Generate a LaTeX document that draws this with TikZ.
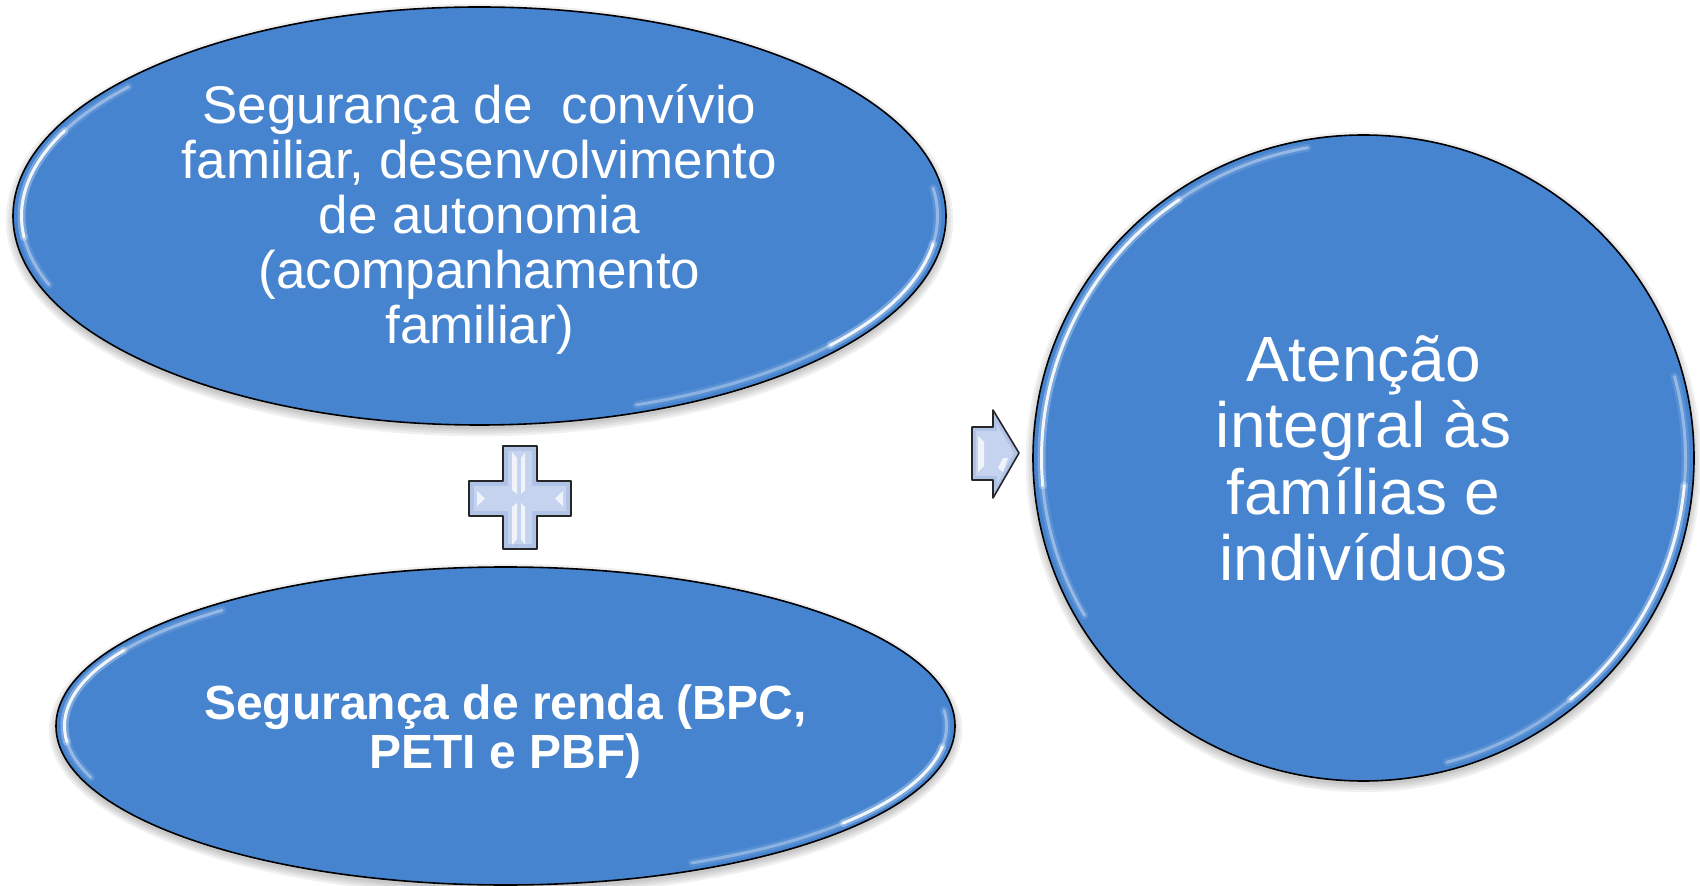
\documentclass[tikz,border=0pt]{standalone}
\usepackage{fontspec}
\setmainfont{Liberation Sans}
\usetikzlibrary{shapes.geometric}
\definecolor{shapeblue}{RGB}{70,132,208}
\definecolor{iconfill}{RGB}{176,194,230}
\definecolor{iconlight}{RGB}{198,211,239}
\newcommand\myhl[6]{%
  \begin{scope}[shift={(#1)},x=1pt,y=1pt]
  \draw[white,line width=4pt,opacity=0.28*#6,line cap=round] (#4:#2 and #3) arc[start angle=#4,end angle=#5,x radius=#2,y radius=#3];
  \draw[white,line width=1.5pt,opacity=0.9*#6,line cap=round] (#4:#2 and #3) arc[start angle=#4,end angle=#5,x radius=#2,y radius=#3];
  \end{scope}}
\newcommand\myshadow[3]{%
  \foreach \e in {0,1.2,2.4,3.6}{\fill[black,opacity=0.06] ([yshift=-2pt]#1) ellipse [x radius=#2+\e pt, y radius=#3+\e pt];}}
\begin{document}
\begin{tikzpicture}[x=0.5pt,y=-0.5pt,
  blob/.style={ellipse, draw=black, line width=0.8pt, fill=shapeblue, inner sep=0pt},
  txt/.style={text=white, inner sep=0pt, align=center},
  icon/.style={draw=black!85, line width=0.8pt, fill=iconfill, line join=round},
  facet/.style={fill=white, opacity=0.75}]
\useasboundingbox (0,0) rectangle (1700,886);
\coordinate (ctop) at (479.5,216);
\coordinate (cbot) at (505.5,726);
\coordinate (ccirc) at (1363.5,458);
% shadows
\myshadow{ctop}{233.25pt}{104.5pt}
\myshadow{cbot}{224.75pt}{79.5pt}
\myshadow{ccirc}{165.25pt}{161.5pt}
% shapes
\node[blob, minimum width=466.5pt, minimum height=209pt] (top) at (ctop) {};
\node[blob, minimum width=449.5pt, minimum height=159pt] (bot) at (cbot) {};
\node[blob, minimum width=330.5pt, minimum height=323pt] (circ) at (ccirc) {};
% highlights
\myhl{ctop}{229}{100.5}{140}{155}{0.4}
\myhl{ctop}{229}{100.5}{155}{186}{1}
\myhl{ctop}{229}{100.5}{186}{200}{0.4}
\myhl{ctop}{229}{100.5}{8}{-8}{0.4}
\myhl{ctop}{229}{100.5}{-8}{-40}{1}
\myhl{ctop}{229}{100.5}{-40}{-70}{0.35}
\myhl{cbot}{220.5}{75.5}{130}{150}{0.4}
\myhl{cbot}{220.5}{75.5}{150}{186}{1}
\myhl{cbot}{220.5}{75.5}{186}{200}{0.4}
\myhl{cbot}{220.5}{75.5}{6}{-8}{0.4}
\myhl{cbot}{220.5}{75.5}{-8}{-40}{1}
\myhl{cbot}{220.5}{75.5}{-40}{-65}{0.35}
\myhl{ccirc}{161}{157.5}{100}{125}{0.4}
\myhl{ccirc}{161}{157.5}{125}{185}{1}
\myhl{ccirc}{161}{157.5}{185}{210}{0.4}
\myhl{ccirc}{161}{157.5}{15}{-5}{0.4}
\myhl{ccirc}{161}{157.5}{-5}{-50}{1}
\myhl{ccirc}{161}{157.5}{-50}{-75}{0.35}
% texts
\node[txt, font={\fontsize{26.5pt}{27.5pt}\selectfont}] (toptext) at ([yshift=-1.5pt]top.center)
  {Segurança de\ \ convívio\\familiar, desenvolvimento\\de autonomia\\(acompanhamento\\familiar)};
\node[txt, font={\fontsize{24pt}{24.5pt}\selectfont\bfseries}] (bottext) at ([yshift=-2.7pt]bot.center)
  {Segurança de renda (BPC,\\PETI e PBF)};
\node[txt, font={\fontsize{32pt}{33.25pt}\selectfont}] (circtext) at ([yshift=-0.3pt]circ.center)
  {Atenção\\integral às\\famílias e\\indivíduos};
% plus sign
\draw[icon] (503,446) -- (537,446) -- (537,481) -- (571,481) -- (571,516) -- (537,516)
  -- (537,549) -- (503,549) -- (503,516) -- (469,516) -- (469,481) -- (503,481) -- cycle;
\fill[iconlight] (508,451) -- (532,451) -- (532,486) -- (566,486) -- (566,511) -- (532,511)
  -- (532,544) -- (508,544) -- (508,511) -- (474,511) -- (474,486) -- (508,486) -- cycle;
\fill[facet] (512,452) -- (517,458) -- (517,494) -- (512,490) -- cycle;
\fill[facet] (521,458) -- (525,453) -- (525,490) -- (521,494) -- cycle;
\fill[facet] (512,545) -- (517,539) -- (517,503) -- (512,507) -- cycle;
\fill[facet] (521,539) -- (525,545) -- (525,507) -- (521,503) -- cycle;
\fill[facet] (477,491) -- (485,498.5) -- (477,506) -- cycle;
\fill[facet] (563,491) -- (555,498.5) -- (563,506) -- cycle;
% block arrow
\draw[icon] (972,427) -- (993,427) -- (993,410) -- (1019,453) -- (993,498) -- (993,480)
  -- (972,480) -- cycle;
\fill[iconlight] (976,431) -- (997,431) -- (997,424) -- (1014,453) -- (997,484) -- (997,476)
  -- (976,476) -- cycle;
\fill[facet] (978,436) -- (984,442) -- (984,466) -- (978,472) -- cycle;
\fill[facet] (998,468) -- (1003,458) -- (1008,458) -- (1003,472) -- cycle;
\end{tikzpicture}
\end{document}
